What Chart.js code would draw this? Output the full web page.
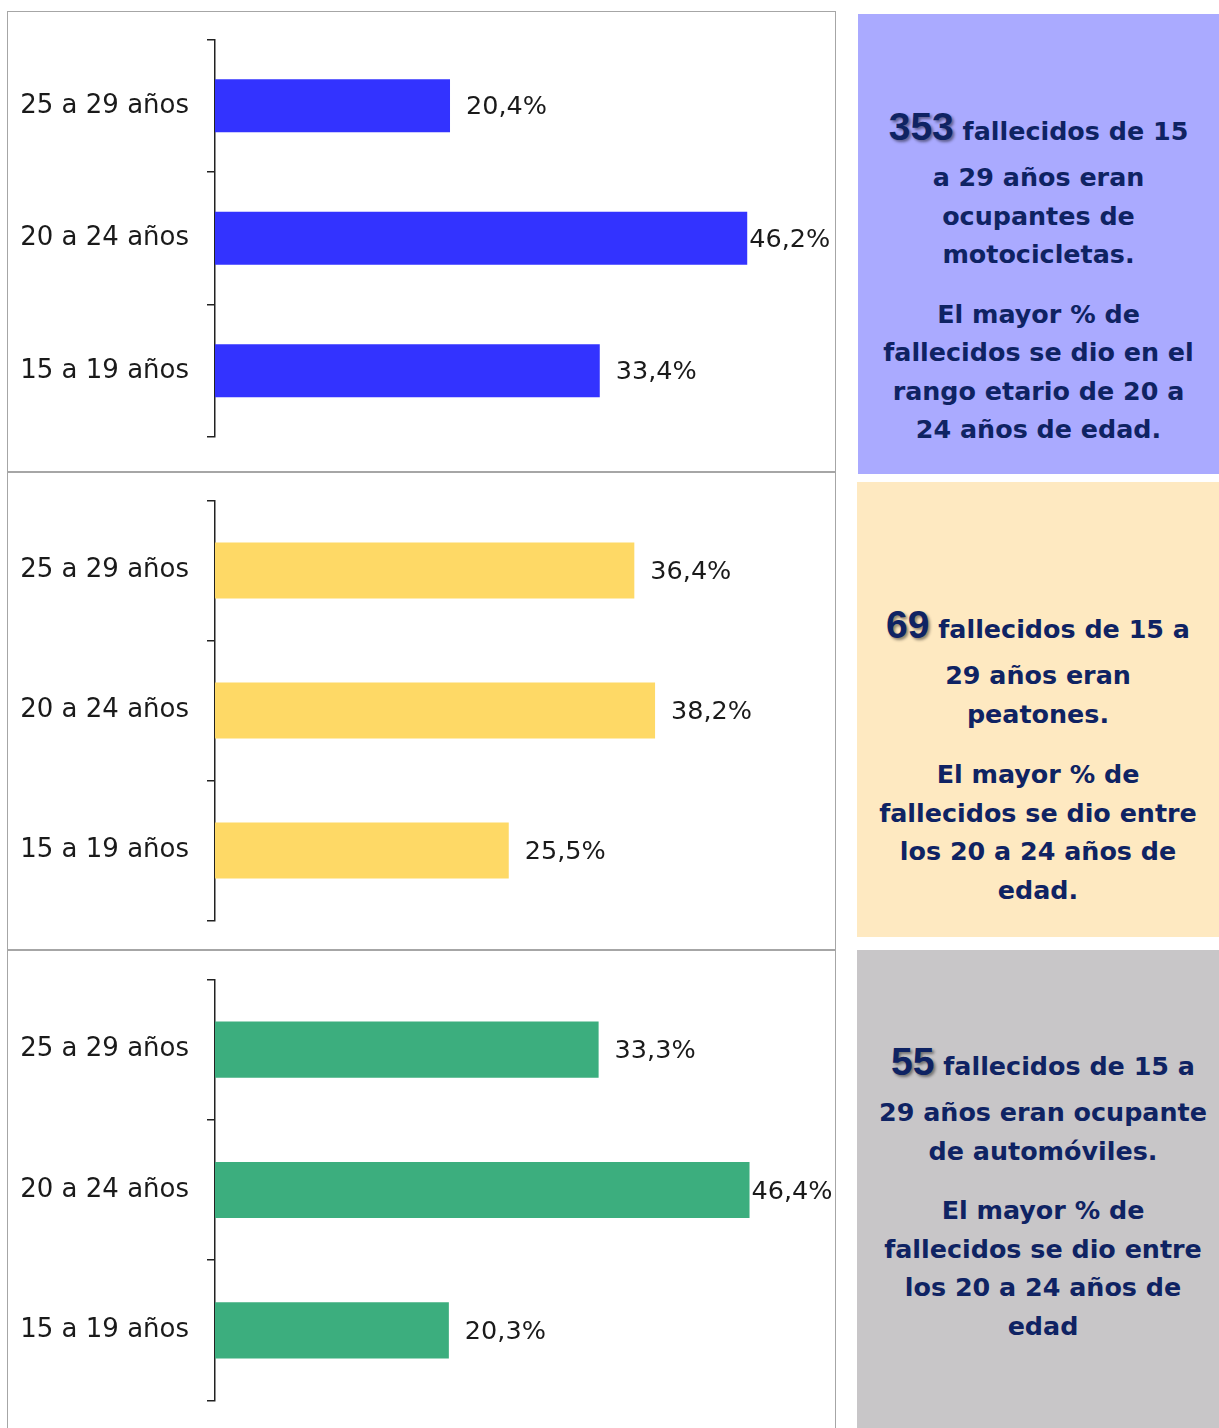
<!DOCTYPE html>
<html>
<head>
<meta charset="utf-8">
<script src="https://cdn.jsdelivr.net/npm/chart.js@4"></script>
<style>
  body { margin: 0; width: 1219px; height: 1428px; background: #fff; position: relative; overflow: hidden; font-family: "DejaVu Sans", sans-serif; }
  .panel { position: absolute; left: 7px; width: 829px; border: 1.5px solid #a6a6a6; box-sizing: border-box; }
  .panel canvas { position: absolute; left: 0; top: 0; }
  .box { position: absolute; left: 857px; width: 362px; color: #0f2363; font-weight: bold; text-align: center; font-size: 25.4px; line-height: 38.5px; box-sizing: border-box; }
  .box .big { font-family: "Liberation Sans", sans-serif; font-size: 39px; text-shadow: 2px 2px 3px rgba(0,0,0,0.45); }
  .box p { margin: 0; }
  .box .l1 { line-height: 53px; }
  .box .gap { height: 21px; }
</style>
</head>
<body>

<div class="panel" style="top:11px;height:462px"><canvas id="c1" width="826" height="459"></canvas></div>
<div class="panel" style="top:471px;height:480px"><canvas id="c2" width="826" height="477"></canvas></div>
<div class="panel" style="top:949px;height:482px"><canvas id="c3" width="826" height="479"></canvas></div>

<div class="box" style="top:14px;height:460px;background:#aaaaff;padding-top:86px;left:858px;width:361px">
  <p class="l1"><span class="big">353</span> fallecidos de 15</p>
  <p>a 29 años eran<br>ocupantes de<br>motocicletas.</p>
  <div class="gap"></div>
  <p>El mayor % de<br>fallecidos se dio en el<br>rango etario de 20 a<br>24 años de edad.</p>
</div>
<div class="box" style="top:482px;height:455px;background:#fee9c1;padding-top:116px">
  <p class="l1"><span class="big">69</span> fallecidos de 15 a</p>
  <p>29 años eran<br>peatones.</p>
  <div class="gap" style="height:22px"></div>
  <p>El mayor % de<br>fallecidos se dio entre<br>los 20 a 24 años de<br>edad.</p>
</div>
<div class="box" style="top:950px;height:478px;background:#c8c6c8;padding-top:85px;padding-left:10px">
  <p class="l1"><span class="big">55</span> fallecidos de 15 a</p>
  <p>29 años eran ocupante<br>de automóviles.</p>
  <div class="gap"></div>
  <p>El mayor % de<br>fallecidos se dio entre<br>los 20 a 24 años de<br>edad</p>
</div>

<script>
// categorías (de arriba hacia abajo)
const edades = ['25 a 29 años', '20 a 24 años', '15 a 19 años'];

// % de fallecidos por tipo de usuario
const motociclistas = [20.4, 46.2, 33.4];
const peatones      = [36.4, 38.2, 25.5];
const automoviles   = [33.3, 46.4, 20.3];

const fmtPct = v => v.toFixed(1).replace('.', ',') + '%';

// etiquetas de valor al final de cada barra
const etiquetas = {
  id: 'etiquetas',
  afterDatasetsDraw(chart) {
    const c = chart.ctx;
    const meta = chart.getDatasetMeta(0);
    const vals = chart.data.datasets[0].data;
    c.save();
    c.font = '25.5px "DejaVu Sans", sans-serif';
    c.fillStyle = '#1a1a1a';
    c.textBaseline = 'middle';
    c.textAlign = 'left';
    meta.data.forEach((bar, i) => {
      const txt = fmtPct(vals[i]);
      const w = c.measureText(txt).width;
      let x = bar.x + 16;
      const maxX = chart.width - 8 - w;
      if (x > maxX) x = Math.max(bar.x + 2, maxX);
      c.fillText(txt, x, bar.y + 2);
    });
    c.restore();
  }
};

function barChart(id, data, color, pad) {
  return new Chart(document.getElementById(id), {
    type: 'bar',
    data: {
      labels: edades,
      datasets: [{ data, backgroundColor: color, borderWidth: 0, categoryPercentage: 1, barPercentage: 0.4 }]
    },
    options: {
      indexAxis: 'y',
      responsive: false,
      animation: false,
      layout: { padding: pad },
      plugins: { legend: { display: false }, tooltip: { enabled: false } },
      scales: {
        x: { display: false, min: 0, max: 50 },
        y: {
          afterFit: s => { s.width = 207 - pad.left; s.paddingTop = 0; s.paddingBottom = 0; },
          border: { color: '#222', width: 1.5 },
          grid: { drawOnChartArea: false, color: '#222', lineWidth: 1.5, tickLength: 8 },
          ticks: { color: '#1a1a1a', padding: 18, font: { size: 26, family: '"DejaVu Sans", sans-serif' } }
        }
      }
    },
    plugins: [etiquetas]
  });
}

barChart('c1', motociclistas, '#3333ff', { left: 0, top: 27.5, bottom: 34, right: 43 });
barChart('c2', peatones, '#fed966', { left: 0, top: 28.5, bottom: 28.5, right: 43 });
barChart('c3', automoviles, '#3cae7e', { left: 1, top: 29.5, bottom: 28.5, right: 43 });
</script>
</body>
</html>
